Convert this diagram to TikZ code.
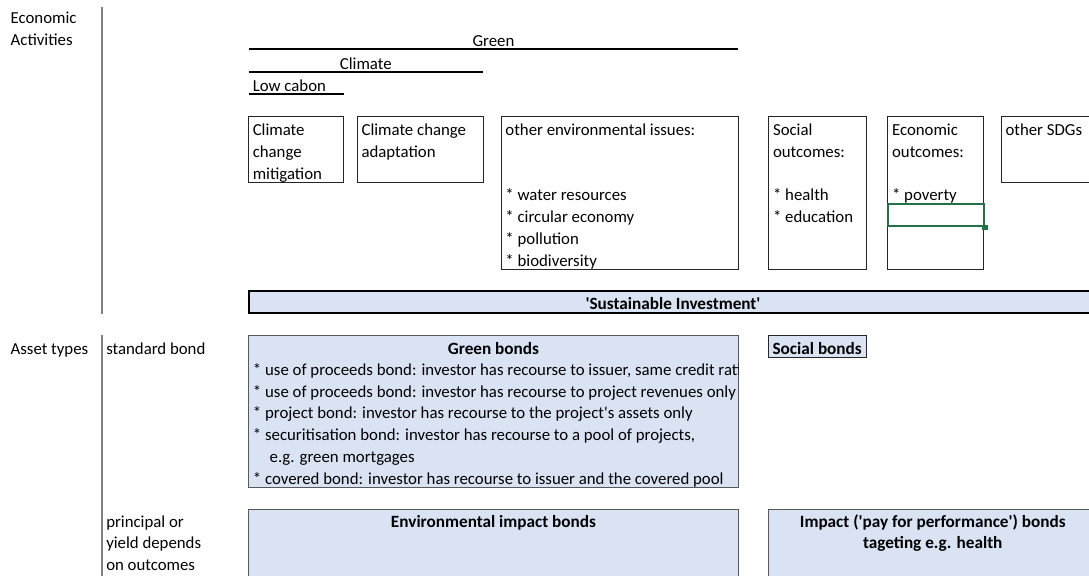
\documentclass[tikz,border=0pt]{standalone}
\usepackage{fontspec}
\setmainfont{Carlito}
\usetikzlibrary{fit}

\definecolor{cellblue}{HTML}{DAE3F3}
\definecolor{selgreen}{HTML}{217346}
\newcommand{\apos}{\textquotesingle}
\newcommand{\cellfont}{\fontsize{12.6}{16.3}\selectfont}
\newcommand{\headfont}{\fontsize{12.9}{16.3}\selectfont\bfseries}

% text nodes sit on the baseline of their last line
\tikzset{
	txt/.style={inner sep=0, anchor=base west, align=left, font=\cellfont, yshift=-1.1pt},
	headtxt/.style={txt, anchor=base, font=\headfont},
	cellbox/.style={draw=black!85, line width=0.75pt, inner sep=0},
	bluebox/.style={cellbox, draw=black!65, fill=cellblue},
	rule/.style={line width=1.5pt, black},
	sepline/.style={line width=1.1pt, black!50}
}

\begin{document}
\begin{tikzpicture}[x=0.75pt, y=-0.75pt]
		\useasboundingbox (0,0) rectangle (1089,575);
		\clip (0,0) rectangle (1089,575);
		% Row labels and separators
		\node[txt] (econact) at (10.4,43.7) {Economic\\Activities};
		\coordinate (sepAtop) at (101.8,7);
		\coordinate (sepAbot) at (101.8,314);
		\draw[sepline] (sepAtop) -- (sepAbot);
		\node[txt] (assets) at (10.4,352.7) {Asset types};
		\coordinate (sepBtop) at (101.8,335);
		\coordinate (sepBbot) at (101.8,580);
		\draw[sepline] (sepBtop) -- (sepBbot);
		\node[txt] (stdbond) at (106,352.7) {standard bond};
		\node[txt] (outcome) at (106,569.2) {principal or\\yield depends\\on outcomes};
		% Green / Climate / Low carbon brackets
		\coordinate (greenL) at (248.5,49.3);
		\coordinate (greenR) at (738.3,49.3);
		\draw[rule] (greenL) -- (greenR);
		\node[txt, anchor=base] (green) at (493.5,45) {Green};
		\coordinate (climL) at (248.5,71.7);
		\coordinate (climR) at (483.1,71.7);
		\draw[rule] (climL) -- (climR);
		\node[txt, anchor=base] (climate) at (365.8,67.7) {Climate};
		\coordinate (lowL) at (248.5,94.3);
		\coordinate (lowR) at (343.8,94.3);
		\draw[rule] (lowL) -- (lowR);
		\node[txt] (lowcarbon) at (252.5,90) {Low cabon};
		% Economic activity boxes
		\node[cellbox, fit={(248.5,116.7) (343.8,182.3)}] (mitig) {};
		\node[txt] (mitigtxt) at (252.5,177.8) {Climate\\change\\mitigation};
		\node[cellbox, fit={(357.3,116.7) (483.1,182.3)}] (adapt) {};
		\node[txt] (adapttxt) at (361.3,156) {Climate change\\adaptation};
		\node[cellbox, fit={(501.2,116.7) (738.3,269.3)}] (otherenv) {};
		\node[txt] (otherenvtxt) at (505.2,264.7) {other environmental issues:\\[32.6pt]* water resources\\* circular economy\\* pollution\\* biodiversity};
		\node[cellbox, fit={(768.8,116.7) (866.3,269.3)}] (social) {};
		\node[txt] (socialtxt) at (772.8,221.2) {Social\\outcomes:\\[16.3pt]* health\\* education};
		\node[cellbox, fit={(887.8,116.7) (983.2,269.3)}] (econout) {};
		\node[txt] (econouttxt) at (891.8,199.5) {Economic\\outcomes:\\[16.3pt]* poverty};
		\node[cellbox, fit={(1001.3,116.7) (1100,182.3)}] (sdgs) {};
		\node[txt] (sdgstxt) at (1005.3,134.3) {other SDGs};
		% Selected cell
		\node[draw=selgreen, line width=1.5pt, inner sep=0, fit={(887.8,203.7) (984,226.3)}] (selcell) {};
		\node[fill=selgreen, inner sep=0, minimum size=4pt] (selhandle) at (selcell.south east) {};
		% Sustainable investment bar
		\node[bluebox, draw=black, line width=1.5pt, fit={(248.5,290.7) (1100,313.3)}] (sustinv) {};
		\node[headtxt] (sustinvtxt) at (673,308.3) {\apos Sustainable Investment\apos};
		% Asset type boxes
		\node[bluebox, fit={(248.5,335.5) (738.3,487.5)}] (greenbonds) {};
		\node[headtxt] (greenbondstitle) at (493.5,352.7) {Green bonds};
		\begin{scope}
			\clip (248.5,335.5) rectangle (738.3,487.5);
			\node[txt] (greenbondstxt) at (252.7,482.7) {* use of proceeds bond: investor has recourse to issuer, same credit rating\\* use of proceeds bond: investor has recourse to project revenues only\\* project bond: investor has recourse to the project\apos s assets only\\* securitisation bond: investor has recourse to a pool of projects,\\\hspace*{12.5pt}e.g. green mortgages\\* covered bond: investor has recourse to issuer and the covered pool};
		\end{scope}
		\node[bluebox, draw=black!85, fit={(768.8,335.7) (866.7,357)}] (socialbonds) {};
		\node[headtxt, anchor=base west] (socialbondstxt) at (772.3,352.7) {Social bonds};
		\node[bluebox, fit={(248.5,509.3) (738.3,590)}] (envimpact) {};
		\node[headtxt] (envimpacttxt) at (493.5,525.7) {Environmental impact bonds};
		\node[bluebox, fit={(768.8,509.3) (1100,590)}] (impact) {};
		\node[headtxt, align=center] (impacttxt) at (932.8,547.4) {Impact (\apos pay for performance\apos) bonds\\tageting e.g. health};
	\end{tikzpicture}
\end{document}
